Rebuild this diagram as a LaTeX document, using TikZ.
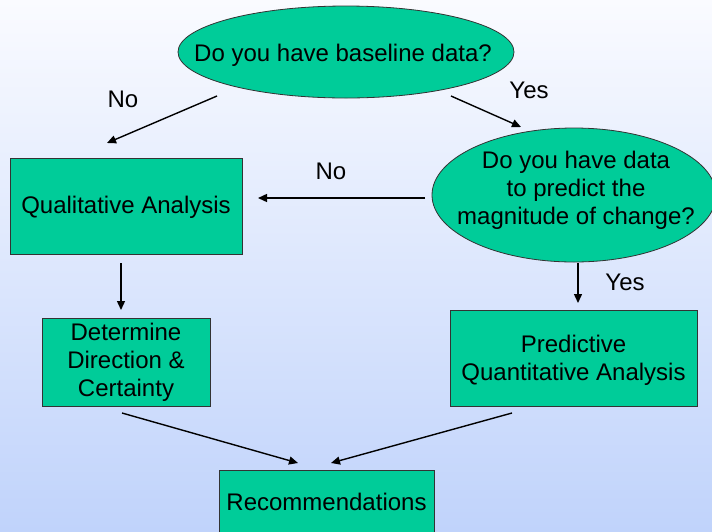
\documentclass[tikz,border=0pt]{standalone}
\usepackage{fontspec}
\setmainfont{Liberation Sans}
\usetikzlibrary{shapes.geometric,arrows.meta}
\definecolor{boxgreen}{RGB}{0,204,153}
\definecolor{bgtop}{RGB}{250,251,255}
\definecolor{bgbot}{RGB}{192,211,251}
\begin{document}
\begin{tikzpicture}[x=1pt,y=-1pt,
  every node/.style={font=\fontsize{24}{28}\selectfont, text=black},
  greenbox/.style={draw=black!80, line width=0.8pt, fill=boxgreen, inner sep=0pt, align=center},
  greenell/.style={ellipse, draw=black!80, line width=0.8pt, fill=boxgreen, inner sep=0pt},
  conn/.style={line width=1.4pt, -{Triangle[length=9pt,width=8pt]}},
  lab/.style={inner sep=0pt, align=center}]
\useasboundingbox (0,0) rectangle (712,531);
\clip (0,0) rectangle (712,531);
\shade[top color=bgtop, bottom color=bgbot] (0,0) rectangle (712,531);
% nodes
\node[greenell, minimum width=336pt, minimum height=92pt] (q1) at (346,52) {};
\node[lab] (q1t) at (343,55) {Do you have baseline data?};
\node[greenell, minimum width=284pt, minimum height=134pt] (q2) at (574,195) {};
\node[lab] (q2t) at (576,190) {Do you have data\\to predict the\\magnitude of change?};
\node[greenbox, minimum width=232pt, minimum height=96pt] (qual) at (126,206) {};
\node[lab] (qualt) at (126,207) {Qualitative Analysis};
\node[greenbox, minimum width=168pt, minimum height=88pt] (det) at (126,362) {};
\node[lab] (dett) at (126,362) {Determine\\Direction \&\\Certainty};
\node[greenbox, minimum width=247pt, minimum height=96pt] (pred) at (573.5,358) {};
\node[lab] (predt) at (573.5,360) {Predictive\\Quantitative Analysis};
\node[greenbox, minimum width=215pt, minimum height=76pt] (rec) at (326.5,508) {};
\node[lab] (rect) at (326.5,502) {Recommendations};
% connector end points
\coordinate (a1s) at (217,96); \coordinate (a1e) at (107,143);
\coordinate (a2s) at (451,96); \coordinate (a2e) at (521,127);
\coordinate (a3s) at (425,198); \coordinate (a3e) at (258,198);
\coordinate (a4s) at (121,263); \coordinate (a4e) at (121,310);
\coordinate (a5s) at (578,263); \coordinate (a5e) at (578,303);
\coordinate (a6s) at (122,413); \coordinate (a6e) at (298,463);
\coordinate (a7s) at (512,413); \coordinate (a7e) at (331,463);
\draw[conn] (a1s) -- (a1e);
\draw[conn] (a2s) -- (a2e);
\draw[conn] (a3s) -- (a3e);
\draw[conn] (a4s) -- (a4e);
\draw[conn] (a5s) -- (a5e);
\draw[conn] (a6s) -- (a6e);
\draw[conn] (a7s) -- (a7e);
% labels
\node[lab] (l1) at (123,99) {No};
\node[lab] (l2) at (529,90) {Yes};
\node[lab] (l3) at (331,171) {No};
\node[lab] (l4) at (625,282) {Yes};
\end{tikzpicture}
\end{document}
